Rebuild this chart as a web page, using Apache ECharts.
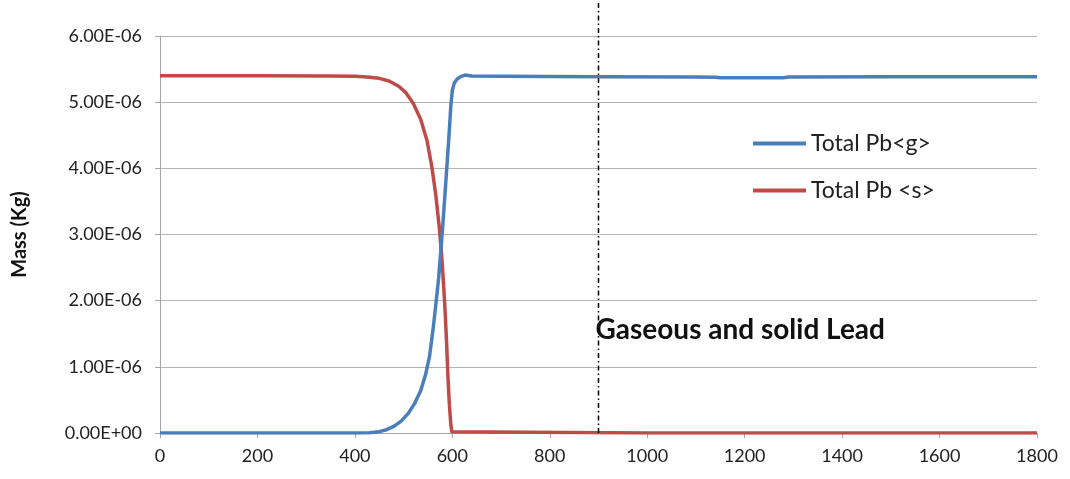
<!DOCTYPE html>
<html><head><meta charset="utf-8">
<script src="https://cdn.jsdelivr.net/npm/echarts@6/dist/echarts.min.js"></script>
<style>html,body{margin:0;padding:0;background:#fff}#c{width:1070px;height:479px}</style>
</head><body><div id="c"></div>
<script>
// time (x) and mass values in units of 1E-6 kg
const timeS = [0, 200, 350, 400, 425, 450, 470, 490, 505, 520, 535, 548, 558, 566, 573, 578, 582, 585, 588, 591, 594, 597, 599, 602, 1000, 1800];
const pbSolid = [5.40, 5.40, 5.395, 5.39, 5.38, 5.36, 5.32, 5.24, 5.14, 4.98, 4.74, 4.42, 4.02, 3.60, 3.12, 2.70, 2.25, 1.86, 1.40, 0.85, 0.42, 0.12, 0.02, 0, 0, 0];
const timeG = [0, 400, 430, 450, 465, 480, 495, 510, 522, 535, 545, 553, 561, 567, 572, 576, 580, 585, 589, 593, 597, 600, 604, 610, 618, 626, 640, 700, 900, 1100, 1140, 1150, 1280, 1290, 1500, 1800];
const pbGas = [0, 0, 0.005, 0.02, 0.05, 0.10, 0.18, 0.30, 0.44, 0.64, 0.88, 1.15, 1.60, 2.00, 2.35, 2.72, 3.10, 3.62, 4.05, 4.48, 4.95, 5.18, 5.29, 5.35, 5.39, 5.41, 5.395, 5.39, 5.385, 5.38, 5.375, 5.37, 5.37, 5.38, 5.385, 5.385];
const markerX = 900;
const annotation = 'Gaseous and solid Lead';
const seriesNames = ['Total Pb<g>', 'Total Pb <s>'];

const scale = 1e-6;
const gasData = timeG.map((t, i) => [t, pbGas[i] * scale]);
const solidData = timeS.map((t, i) => [t, pbSolid[i] * scale]);

function fmtY(v) {
  if (Math.abs(v) < 1e-15) return '0.00E+00';
  let e = Math.floor(Math.log10(Math.abs(v)) + 1e-9);
  let m = v / Math.pow(10, e);
  let sign = e < 0 ? '-' : '+';
  let ea = Math.abs(e);
  return m.toFixed(2) + 'E' + sign + (ea < 10 ? '0' + ea : ea);
}

const font = 'Lato, "Open Sans", sans-serif';
const chart = echarts.init(document.getElementById('c'));
chart.setOption({
  animation: false,
  backgroundColor: '#fff',
  grid: { left: 160, right: 33, top: 36, bottom: 46, containLabel: false },
  legend: {
    orient: 'vertical', left: 748, top: 127, itemWidth: 53, itemHeight: 4, itemGap: 24,
    icon: 'rect',
    textStyle: { fontFamily: font, fontSize: 23, color: '#222' },
    data: seriesNames
  },
  xAxis: {
    type: 'value', min: 0, max: 1800, interval: 200,
    axisLine: { lineStyle: { color: '#a6a6a6', width: 1 } },
    axisTick: { show: true, length: 5, lineStyle: { color: '#a6a6a6' } },
    axisLabel: { fontFamily: font, fontSize: 18, color: '#222', margin: 14, formatter: v => String(v) },
    splitLine: { show: false }
  },
  yAxis: {
    type: 'value', min: 0, max: 6e-6, interval: 1e-6,
    name: 'Mass (Kg)', nameLocation: 'middle', nameGap: 130, nameRotate: 90,
    nameTextStyle: { fontFamily: font, fontSize: 20, fontWeight: 'bold', color: '#111' },
    axisLine: { show: true, lineStyle: { color: '#a6a6a6', width: 1 } },
    axisTick: { show: true, inside: false, length: 5, lineStyle: { color: '#a6a6a6' } },
    axisLabel: { fontFamily: font, fontSize: 18, color: '#222', margin: 18, formatter: fmtY },
    splitLine: { show: true, lineStyle: { color: '#b3b3b3', width: 1 } }
  },
  series: [
    {
      name: seriesNames[0], type: 'line', data: gasData, showSymbol: false,
      smooth: false,
      lineStyle: { color: '#4a7ebb', width: 3.5, join: 'round' }, itemStyle: { color: '#4a7ebb' },
      z: 3,
      markPoint: {
        silent: true, symbol: 'circle', symbolSize: 0,
        data: [{ coord: [markerX, 1.56e-6] }],
        label: {
          show: true, position: 'right', distance: -3, formatter: annotation,
          fontFamily: font, fontSize: 28, fontWeight: 'bold', color: '#111'
        }
      }
    },
    {
      name: seriesNames[1], type: 'line', data: solidData, showSymbol: false,
      smooth: false,
      lineStyle: { color: '#be4b48', width: 3.5, join: 'round' }, itemStyle: { color: '#be4b48' },
      z: 2
    }
  ]
});
// vertical dash-dot marker line at t = markerX, extending from the x axis to the top of the picture
const px = chart.convertToPixel({ xAxisIndex: 0 }, markerX);
const py0 = chart.convertToPixel({ yAxisIndex: 0 }, 0);
chart.setOption({
  graphic: [{
    type: 'line', silent: true, z: 10,
    shape: { x1: px, y1: py0, x2: px, y2: 0 },
    style: { stroke: '#000', lineWidth: 1.5, lineDash: [5, 3, 1.5, 3] }
  }]
});
</script></body></html>
